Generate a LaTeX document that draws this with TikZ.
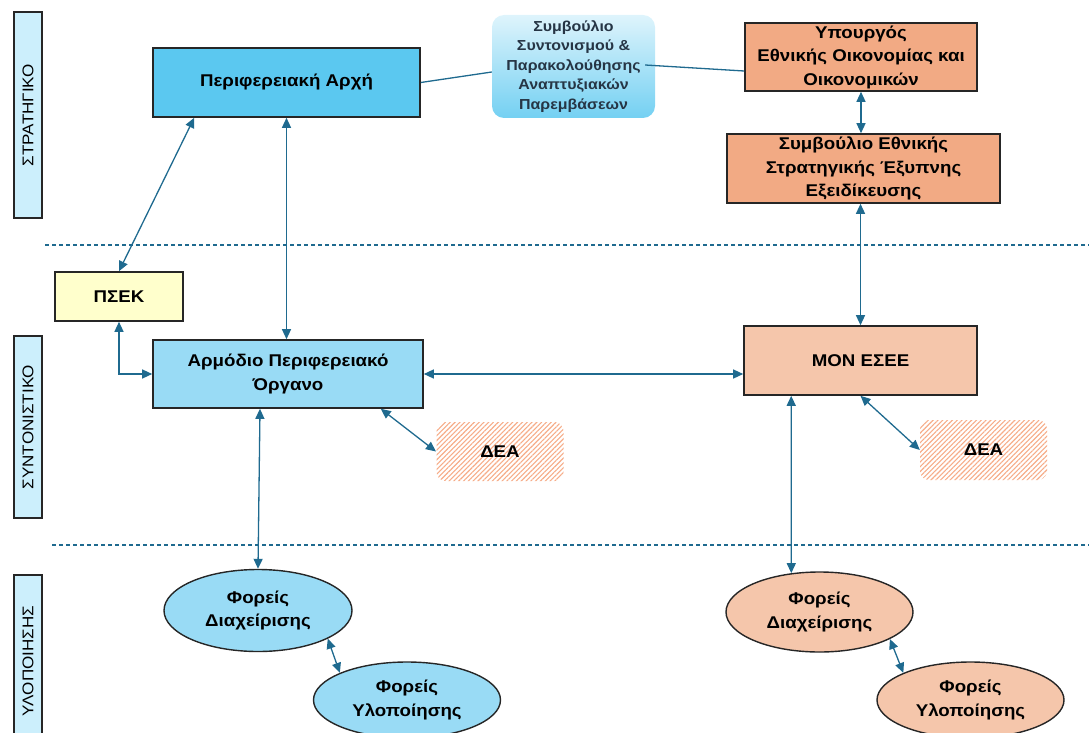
\documentclass[tikz,border=0pt]{standalone}
\usepackage{fontspec}
\setmainfont[FakeStretch=1.1]{Liberation Sans}
\usetikzlibrary{arrows.meta,shapes.geometric,patterns.meta}
\definecolor{arr}{HTML}{1F6A8F}
\definecolor{labfill}{HTML}{CCEFFC}
\definecolor{pafill}{HTML}{5BC8F0}
\definecolor{apfill}{HTML}{99DBF5}
\definecolor{orfill}{HTML}{F2AA84}
\definecolor{pefill}{HTML}{F5C6AB}
\definecolor{yefill}{HTML}{FFFFCC}
\definecolor{hatch}{HTML}{F6AC88}
\definecolor{sstext}{HTML}{263545}
\tikzset{
  lab/.style={draw=black!85, line width=1.3pt, fill=labfill, minimum height=28pt, rotate=90, font=\fontsize{15.5}{17}\selectfont, inner sep=0pt},
  box/.style={draw=black!85, line width=1.6pt, align=center, font=\bfseries\fontsize{17}{23.5}\selectfont, inner sep=1pt},
  ell/.style={draw=black!85, line width=1.4pt, ellipse, align=center, font=\bfseries\fontsize{17}{23.5}\selectfont, inner sep=0pt},
  dea/.style={rounded corners=9pt, pattern={Lines[angle=45,distance=3.4pt,line width=1.1pt]}, pattern color=hatch, font=\bfseries\fontsize{17}{20}\selectfont},
  con/.style={draw=arr, line width=1.3pt},
  bi/.style={con, {Triangle[length=10pt,width=9pt]}-{Triangle[length=10pt,width=9pt]}},
  sep/.style={draw=arr, line width=1.1pt, dash pattern=on 4pt off 3pt},
}
\begin{document}
\begin{tikzpicture}[x=1pt,y=-1pt]
\useasboundingbox (0,0) rectangle (1089,733);
\begin{scope}
\clip (0,0) rectangle (1089,733);
% level labels
\node[lab, minimum width=206pt] (l1) at (28,115) {ΣΤΡΑΤΗΓΙΚΟ};
\node[lab, minimum width=182pt] (l2) at (28,427) {ΣΥΝΤΟΝΙΣΤΙΚΟ};
\node[lab, minimum width=172pt] (l3) at (28,661) {ΥΛΟΠΟΙΗΣΗΣ};
% separators
\draw[sep] (45,245) -- (1089,245);
\draw[sep] (52,545) -- (1089,545);
% nodes
\node[box, fill=pafill, minimum width=267pt, minimum height=69pt] (pa) at (286.5,82.5) {Περιφερειακή Αρχή};
\node[rounded corners=12pt, top color=white!80!pafill, bottom color=pafill!85!white, minimum width=163pt, minimum height=103pt, align=center, text=sstext, font=\bfseries\fontsize{14.5}{19.5}\selectfont, inner sep=0pt] (ss) at (573.5,66.5) {Συμβούλιο\\Συντονισμού \&\\Παρακολούθησης\\Αναπτυξιακών\\Παρεμβάσεων};
\node[box, fill=orfill, minimum width=232pt, minimum height=68pt] (yp) at (861,57) {Υπουργός\\Εθνικής Οικονομίας και\\Οικονομικών};
\node[box, fill=orfill, minimum width=273pt, minimum height=69pt] (se) at (863.5,168.5) {Συμβούλιο Εθνικής\\Στρατηγικής Έξυπνης\\Εξειδίκευσης};
\node[box, fill=yefill, minimum width=128pt, minimum height=49pt] (psek) at (119,296.5) {ΠΣΕΚ};
\node[box, fill=apfill, minimum width=270pt, minimum height=68pt] (ap) at (288,374) {Αρμόδιο Περιφερειακό\\Όργανο};
\node[box, fill=pefill, minimum width=233pt, minimum height=69pt] (mon) at (860.5,360.5) {ΜΟΝ ΕΣΕΕ};
\node[dea, minimum width=127pt, minimum height=59pt] (dea1) at (500,451.5) {ΔΕΑ};
\node[dea, minimum width=127pt, minimum height=60pt] (dea2) at (983.5,450) {ΔΕΑ};
\node[ell, fill=apfill, minimum width=188pt, minimum height=82pt] (e1) at (258,610.5) {Φορείς\\Διαχείρισης};
\node[ell, fill=apfill, minimum width=187pt, minimum height=76pt] (e2) at (407,700) {Φορείς\\Υλοποίησης};
\node[ell, fill=pefill, minimum width=187pt, minimum height=80pt] (e3) at (819.5,612) {Φορείς\\Διαχείρισης};
\node[ell, fill=pefill, minimum width=187pt, minimum height=76pt] (e4) at (970.5,700) {Φορείς\\Υλοποίησης};
% plain links
\draw[con] (pa.east) -- ([yshift=-5.5pt]ss.west);
\draw[con] ([xshift=-10pt,yshift=1.5pt]ss.east) -- ([yshift=-14pt]yp.west);
% arrows
\draw[bi] ([xshift=42pt]pa.south west) -- (psek.north);
\draw[bi] (pa.south) -- (pa.south |- ap.north);
\draw[bi] (psek.south) |- (ap.west);
\draw[bi] (ap.east) -- (ap.east -| mon.west);
\draw[bi] ([xshift=-43pt]ap.south east) -- (dea1.west);
\draw[bi] (mon.south) -- (dea2.west);
\draw[bi] ([xshift=-28pt]ap.south) -- (e1.north);
\draw[bi] (e1.-22) -- (e2.158);
\draw[bi] (yp.south) -- (yp.south |- se.north);
\draw[bi] (mon.north |- se.south) -- (mon.north);
\draw[bi] ([xshift=48pt]mon.south west) -- (e3.126);
\draw[bi] (e3.-21) -- (e4.158);
\end{scope}
\end{tikzpicture}
\end{document}
